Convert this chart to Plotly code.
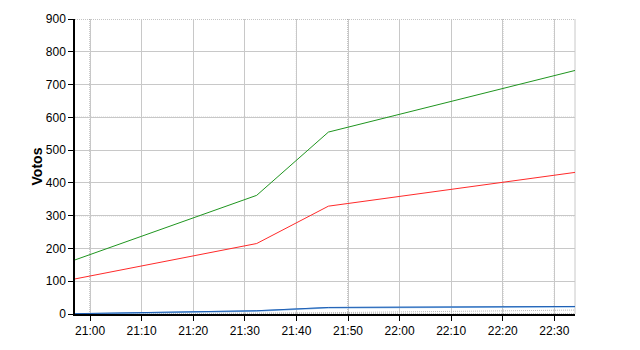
import plotly.graph_objects as go

DAY = "2024-01-01 "
times = ["20:57:05", "21:32:18", "21:46:12", "22:34:00"]
green_vals = [165, 362, 555, 743]
red_vals = [107, 215, 329, 432]
blue_vals = [1, 10, 20, 23]
lightblue_vals = [0, 9, 19, 22]
gray_vals = [0, 2, 4, 12]

y_ticks = [0, 100, 200, 300, 400, 500, 600, 700, 800, 900]
dotted_x = ["21:00", "21:40", "21:50", "22:20", "22:30"]
dotted_y = [0, 300, 600, 900]

x = [DAY + t for t in times]

fig = go.Figure()
fig.add_trace(go.Scatter(x=x, y=gray_vals, mode="lines",
                         line=dict(color="#bbbbbb", width=1, dash="1px,1px"), showlegend=False))
fig.add_trace(go.Scatter(x=x, y=lightblue_vals, mode="lines",
                         line=dict(color="#7fb2e5", width=1.5), showlegend=False))
fig.add_trace(go.Scatter(x=x, y=blue_vals, mode="lines",
                         line=dict(color="#1f5fb4", width=1), showlegend=False))
fig.add_trace(go.Scatter(x=x, y=red_vals, mode="lines",
                         line=dict(color="#ff2a2a", width=1), showlegend=False))
fig.add_trace(go.Scatter(x=x, y=green_vals, mode="lines",
                         line=dict(color="#1f951f", width=1), showlegend=False))

for t in dotted_x:
    fig.add_shape(type="line", xref="x", yref="paper", x0=DAY + t, x1=DAY + t,
                  y0=0, y1=1, line=dict(color="#8a8a8a", width=1, dash="1px,1px"), layer="below")
for v in dotted_y:
    fig.add_shape(type="line", xref="paper", yref="y", x0=0, x1=1, y0=v, y1=v,
                  line=dict(color="#8a8a8a", width=1, dash="1px,1px"), layer="below")
fig.add_shape(type="line", xref="paper", yref="paper", x0=1, x1=1, y0=0, y1=1,
              line=dict(color="#c8c8c8", width=1), layer="below")

fig.update_layout(
    width=640, height=350,
    margin=dict(l=75, r=65, t=15, b=35),
    paper_bgcolor="white", plot_bgcolor="white",
    font=dict(family="Liberation Sans, Arial, sans-serif", size=12, color="black"),
    xaxis=dict(
        type="date", range=[x[0], x[-1]],
        tick0=DAY + "21:00", dtick=600000, tickformat="%H:%M",
        showgrid=True, gridcolor="#c8c8c8", gridwidth=1,
        showline=True, linecolor="black", linewidth=1.5,
        ticks="outside", ticklen=5, tickcolor="black", zeroline=False,
    ),
    yaxis=dict(
        range=[0, 900], tickvals=y_ticks,
        showgrid=True, gridcolor="#c8c8c8", gridwidth=1,
        showline=True, linecolor="black", linewidth=1.5,
        ticks="outside", ticklen=5, tickcolor="black", zeroline=False,
        title=dict(text="<b>Votos</b>", standoff=0),
    ),
)

fig.write_html("out.html")
